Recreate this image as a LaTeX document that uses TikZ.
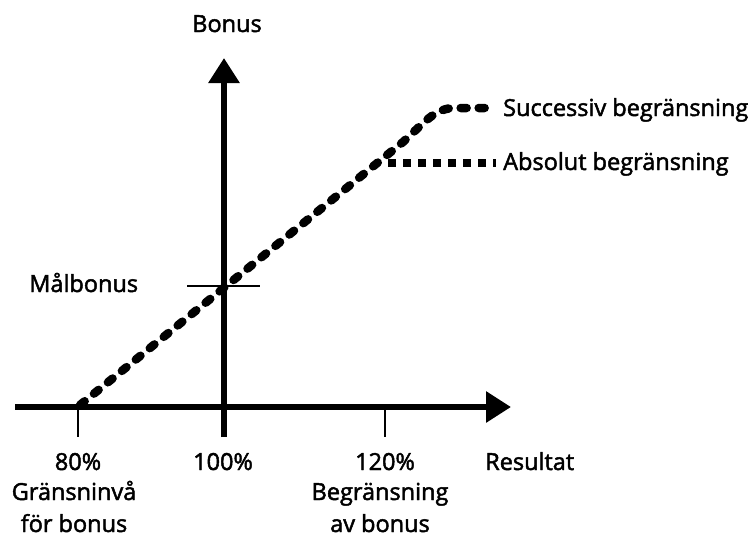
\documentclass[tikz,border=0pt]{standalone}
\usepackage{fontspec}
\setmainfont{Open Sans}[FakeBold=2]
\usetikzlibrary{positioning,arrows.meta}

\begin{document}
\begin{tikzpicture}[
    x=1pt, y=-1pt,
    axis/.style={line width=6pt, -{Triangle[length=25pt,width=30pt]}},
    tick/.style={line width=2.2pt},
    lbl/.style={inner sep=0pt, font=\fontsize{23.5}{32}\selectfont},
    succ/.style={line width=8.5pt, line cap=round, dash pattern=on 6pt off 12pt},
    absl/.style={line width=8pt, dash pattern=on 8pt off 7pt},
]
\useasboundingbox (0,0) rectangle (752,539);

% --- axes ---
\coordinate (ybot)  at (224,437);
\coordinate (ytop)  at (224,58);
\coordinate (xleft) at (15,407);
\coordinate (xend)  at (511,407);
\draw[axis] (xleft) -- (xend);
\draw[axis] (ybot) -- (ytop);

% ticks
\coordinate (a80)  at (78,407);
\coordinate (t80)  at (78,437);
\coordinate (a120) at (385,407);
\coordinate (t120) at (385,437);
\coordinate (mL) at (187,286);
\coordinate (mR) at (260,286);
\draw[tick] (a80) -- (t80);
\draw[tick] (a120) -- (t120);
\draw[tick] (mL) -- (mR);

% --- bonus curves ---
\coordinate (start) at (80,405);
\coordinate (kink)  at (385,160);
\coordinate (bend)  at (403,142);
\coordinate (flat)  at (455,108);
\coordinate (send)  at (491,108);
\coordinate (aend)  at (496,163);
\draw[succ] (start) -- (bend) .. controls (425,122) and (435,108) .. (flat) -- (send);
\draw[absl] (kink |- aend) ++(3,0) -- (aend);

% --- labels ---
\node[lbl, anchor=base] (bonus) at (227,32) {Bonus};
\node[lbl, anchor=base west] (succlbl) at (503,116) {Successiv begränsning};
\node[lbl, anchor=base west] (abslbl)  at (503,170) {Absolut begränsning};
\node[lbl, anchor=base west] (malbonus) at (29,292) {Målbonus};
\node[lbl, anchor=base] (p80)  at (78,470)  {80\%};
\node[lbl, anchor=base] (p100) at (223,470) {100\%};
\node[lbl, anchor=base] (p120) at (385,470) {120\%};
\node[lbl, anchor=base west] (res) at (485,470) {Resultat};
\node[lbl, anchor=base, align=center] (g80)  at (74,532)  {Gränsninvå\\för bonus};
\node[lbl, anchor=base, align=center] (g120) at (380,532) {Begränsning\\av bonus};

\end{tikzpicture}
\end{document}
